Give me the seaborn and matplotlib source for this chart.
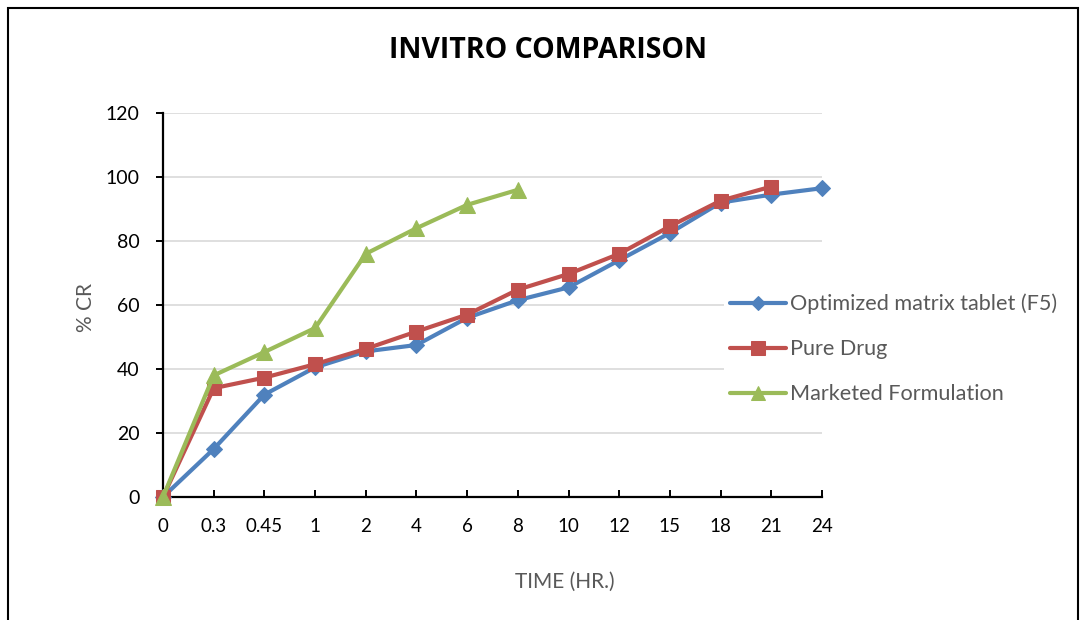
import matplotlib
matplotlib.use("Agg")
import matplotlib.pyplot as plt
import seaborn as sns
import pandas as pd
from matplotlib.patches import Rectangle

# Dissolution time points (hr.) shown as evenly spaced categories
time_labels = ["0", "0.3", "0.45", "1", "2", "4", "6", "8", "10", "12", "15", "18", "21", "24"]

# Cumulative release (% CR) for each formulation
optimized_f5 = [0, 15, 32, 40.5, 45.5, 47.5, 56, 61.5, 65.5, 74, 82.5, 92, 94.5, 96.5]
pure_drug = [0, 34, 37.3, 41.5, 46.3, 51.7, 57, 64.8, 69.7, 76, 84.6, 92.6, 97]
marketed = [0, 38, 45.3, 52.8, 76, 84, 91.3, 96]

series_names = ["Optimized matrix tablet (F5)", "Pure Drug", "Marketed Formulation"]
series_values = [optimized_f5, pure_drug, marketed]
colors = ["#4F81BD", "#C0504D", "#9BBB59"]
markers = ["D", "s", "^"]

rows = []
for name, vals in zip(series_names, series_values):
    for i, v in enumerate(vals):
        rows.append({"pos": i, "time": time_labels[i], "CR": v, "series": name})
df = pd.DataFrame(rows)

sns.set_style("white")
plt.rcParams["font.family"] = ["Lato", "DejaVu Sans"]

fig = plt.figure(figsize=(10.83, 6.2), dpi=100)
ax = fig.add_axes([163 / 1083, 1 - 497 / 620, (822 - 163) / 1083, (497 - 113) / 620])

sns.lineplot(
    data=df, x="pos", y="CR", hue="series", style="series",
    hue_order=series_names, style_order=series_names,
    palette=colors, markers=markers, dashes=False,
    linewidth=3, legend=False, ax=ax, zorder=3,
)
sizes = [8.5, 10.5, 12]
for line, col, ms in zip(ax.lines[:3], colors, sizes):
    line.set_markersize(ms)
    line.set_markeredgecolor(col)
    line.set_markerfacecolor(col)
    line.set_clip_on(False)

ax.set_xlim(0, len(time_labels) - 1)
ax.set_ylim(0, 120)
ax.set_xticks(range(len(time_labels)))
ax.set_xticklabels(time_labels)
ax.set_yticks(range(0, 121, 20))

ax.grid(axis="y", color="#d9d9d9", linewidth=1.2)
ax.grid(axis="x", visible=False)
ax.set_axisbelow(True)

for side in ["top", "right"]:
    ax.spines[side].set_visible(False)
for side in ["left", "bottom"]:
    ax.spines[side].set_color("black")
    ax.spines[side].set_linewidth(1.6)

ax.tick_params(axis="x", direction="in", length=5, width=1.4, color="black",
               labelsize=13.5, pad=15, labelcolor="black")
ax.tick_params(axis="y", direction="out", length=5, width=1.4, color="black",
               labelsize=14, pad=12, labelcolor="black")
ax.tick_params(left=True, bottom=True)

ax.set_xlabel("TIME (HR.)", fontsize=15, color="#595959")
ax.set_ylabel("% CR", fontsize=15, color="#595959")
ax.xaxis.set_label_coords((565 - 163) / 659, (497 - 572) / 384)
ax.yaxis.set_label_coords((96 - 163) / 659, (497 - 307) / 384)

fig.text(548 / 1083, 1 - 50 / 620, "INVITRO COMPARISON", ha="center", va="center",
         fontsize=20.5, fontweight="bold", color="black", family=["Open Sans", "DejaVu Sans"])

leg = ax.legend(
    handles=ax.lines[:3], labels=series_names,
    loc="center left", bbox_to_anchor=(724 / 1083, 1 - 349 / 620),
    bbox_transform=fig.transFigure,
    frameon=True, facecolor="white", edgecolor="none", framealpha=1,
    fontsize=15.6, labelcolor="#595959", handlelength=2.55, handletextpad=0.2,
    labelspacing=1.15, borderpad=0.3, borderaxespad=0, fancybox=False,
)
for h, ms in zip(leg.legend_handles, [7, 10, 10]):
    h.set_markersize(ms)

# Outer chart frame
fig.patches.append(Rectangle((8 / 1083, -0.1), 1070 / 1083, (612 / 620) + 0.1,
                             transform=fig.transFigure, fill=False,
                             edgecolor="black", linewidth=1.5))

fig.savefig("out.png", dpi=100)
